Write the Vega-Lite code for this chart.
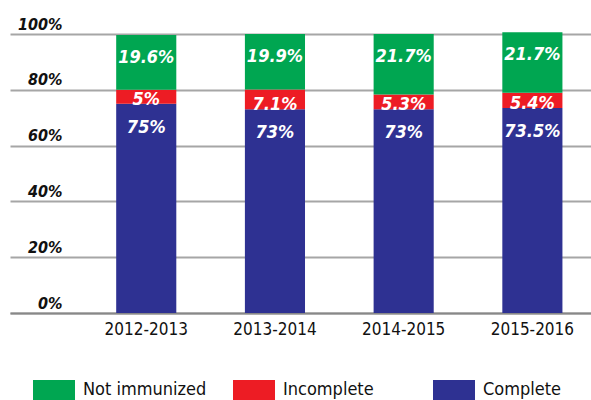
{
  "$schema": "https://vega.github.io/schema/vega-lite/v6.json",
  "width": 581,
  "height": 279,
  "autosize": {"type": "none"},
  "padding": {"left": 10, "top": 34, "right": 0, "bottom": 87},
  "background": "white",
  "config": {"view": {"stroke": null}, "font": "'DejaVu Sans Condensed', Roboto, sans-serif"},
  "data": {
    "values": [
      {"period": "2012-2013", "category": "Complete", "value": 75},
      {"period": "2012-2013", "category": "Incomplete", "value": 5},
      {"period": "2012-2013", "category": "Not immunized", "value": 19.6},
      {"period": "2013-2014", "category": "Complete", "value": 73},
      {"period": "2013-2014", "category": "Incomplete", "value": 7.1},
      {"period": "2013-2014", "category": "Not immunized", "value": 19.9},
      {"period": "2014-2015", "category": "Complete", "value": 73},
      {"period": "2014-2015", "category": "Incomplete", "value": 5.3},
      {"period": "2014-2015", "category": "Not immunized", "value": 21.7},
      {"period": "2015-2016", "category": "Complete", "value": 73.5},
      {"period": "2015-2016", "category": "Incomplete", "value": 5.4},
      {"period": "2015-2016", "category": "Not immunized", "value": 21.7}
    ]
  },
  "transform": [
    {"stack": "value", "groupby": ["period"], "sort": [{"field": "category", "order": "ascending"}], "as": ["v0", "v1"]},
    {"calculate": "datum.value + '%'", "as": "label"}
  ],
  "encoding": {
    "x": {
      "field": "period",
      "type": "nominal",
      "scale": {"paddingInner": 0.533, "paddingOuter": 0.5235, "align": 0.788},
      "axis": {
        "title": null,
        "labelAngle": 0,
        "domain": true,
        "domainColor": "#888888",
        "domainWidth": 2,
        "ticks": false,
        "labelPadding": 8,
        "labelFontSize": 17,
        "labelColor": "#111111"
      }
    }
  },
  "layer": [
    {
      "mark": {"type": "bar"},
      "encoding": {
        "y": {
          "field": "v0",
          "type": "quantitative",
          "scale": {"domain": [0, 100]},
          "axis": {
            "title": null,
            "values": [0, 20, 40, 60, 80, 100],
            "labelExpr": "datum.value + '%'",
            "grid": true,
            "gridColor": "#a6a6a6",
            "gridWidth": 2,
            "domain": false,
            "ticks": false,
            "labelPadding": -52,
            "labelAlign": "right",
            "labelBaseline": "alphabetic",
            "labelOffset": -5,
            "labelFontSize": 16,
            "labelFontStyle": "italic",
            "labelFontWeight": "bold",
            "labelColor": "#111111"
          }
        },
        "y2": {"field": "v1"},
        "color": {
          "field": "category",
          "type": "nominal",
          "scale": {
            "domain": ["Not immunized", "Incomplete", "Complete"],
            "range": ["#00a651", "#ed1c24", "#2e3192"]
          },
          "legend": {
            "title": null,
            "orient": "none",
            "legendX": 23,
            "legendY": 335,
            "direction": "horizontal",
            "columns": 3,
            "gridAlign": "all",
            "columnPadding": 26,
            "symbolType": "M-1,-0.476L1,-0.476L1,0.476L-1,0.476Z",
            "symbolSize": 1764,
            "symbolStrokeWidth": 0,
            "labelFontSize": 18,
            "labelOffset": 8,
            "labelColor": "#111111"
          }
        }
      }
    },
    {
      "transform": [{"filter": "datum.category == 'Not immunized'"}],
      "mark": {"type": "text", "baseline": "alphabetic", "dy": 28, "color": "white", "fontSize": 18, "fontStyle": "italic", "fontWeight": "bold"},
      "encoding": {"y": {"field": "v1", "type": "quantitative"}, "text": {"field": "label"}}
    },
    {
      "transform": [{"filter": "datum.category == 'Complete'"}],
      "mark": {"type": "text", "baseline": "alphabetic", "dy": 29, "color": "white", "fontSize": 18, "fontStyle": "italic", "fontWeight": "bold"},
      "encoding": {"y": {"field": "v1", "type": "quantitative"}, "text": {"field": "label"}}
    },
    {
      "transform": [{"filter": "datum.category == 'Incomplete'"}],
      "mark": {"type": "text", "baseline": "alphabetic", "dy": 1, "color": "white", "fontSize": 18, "fontStyle": "italic", "fontWeight": "bold"},
      "encoding": {"y": {"field": "v0", "type": "quantitative"}, "text": {"field": "label"}}
    }
  ]
}
